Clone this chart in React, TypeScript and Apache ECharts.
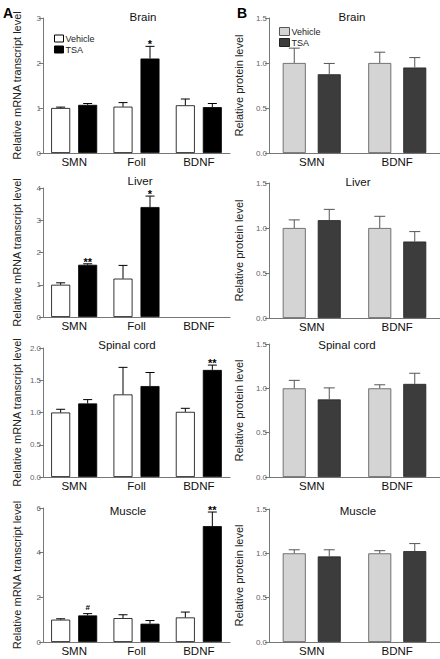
import React, { useEffect, useRef } from "react";
import * as echarts from "echarts";

// ---------- DATA ----------
const mrnaCategories = ["SMN", "Foll", "BDNF"];
const proteinCategories = ["SMN", "BDNF"];
const groupNames = ["Vehicle", "TSA"];
const tissues = ["Brain", "Liver", "Spinal cord", "Muscle"];

// Panel A: relative mRNA transcript level
const brainMrnaVehicle = [1.0, 1.03, 1.06];
const brainMrnaVehicleErr = [0.02, 0.09, 0.14];
const brainMrnaTsa = [1.07, 2.1, 1.02];
const brainMrnaTsaErr = [0.03, 0.27, 0.08];
const brainMrnaSig = ["", "*", ""];

const liverMrnaVehicle = [1.0, 1.19, null];
const liverMrnaVehicleErr = [0.06, 0.41, null];
const liverMrnaTsa = [1.62, 3.41, null];
const liverMrnaTsaErr = [0.03, 0.34, null];
const liverMrnaSig = ["**", "*", ""];

const spinalMrnaVehicle = [1.0, 1.28, 1.01];
const spinalMrnaVehicleErr = [0.05, 0.42, 0.055];
const spinalMrnaTsa = [1.14, 1.41, 1.66];
const spinalMrnaTsaErr = [0.06, 0.21, 0.075];
const spinalMrnaSig = ["", "", "**"];

const muscleMrnaVehicle = [1.0, 1.07, 1.1];
const muscleMrnaVehicleErr = [0.04, 0.15, 0.24];
const muscleMrnaTsa = [1.19, 0.82, 5.19];
const muscleMrnaTsaErr = [0.08, 0.14, 0.63];
const muscleMrnaSig = ["#", "", "**"];

const mrnaAxisMax = [3, 4, 2, 6];
const mrnaAxisInterval = [1, 1, 0.5, 2];
const mrnaAxisDecimals = [0, 0, 1, 0];

// Panel B: relative protein level
const brainProteinVehicle = [1.0, 1.0];
const brainProteinVehicleErr = [0.165, 0.12];
const brainProteinTsa = [0.875, 0.95];
const brainProteinTsaErr = [0.12, 0.11];

const liverProteinVehicle = [1.0, 1.0];
const liverProteinVehicleErr = [0.09, 0.13];
const liverProteinTsa = [1.087, 0.85];
const liverProteinTsaErr = [0.12, 0.11];

const spinalProteinVehicle = [1.0, 1.0];
const spinalProteinVehicleErr = [0.09, 0.04];
const spinalProteinTsa = [0.875, 1.05];
const spinalProteinTsaErr = [0.13, 0.12];

const muscleProteinVehicle = [1.0, 1.0];
const muscleProteinVehicleErr = [0.04, 0.03];
const muscleProteinTsa = [0.965, 1.025];
const muscleProteinTsaErr = [0.075, 0.085];

const proteinAxisMax = 1.5;
const proteinAxisInterval = 0.5;

// ---------- LAYOUT ----------
const FONT = "'Liberation Sans', Arial, Helvetica, sans-serif";
const aTops = [18, 188, 348, 508];
const aBottoms = [153, 317, 477, 642];
const bTops = [18, 183, 344, 509];
const bBottoms = [153, 318, 477, 642];
const aTitlePos = [[143, 17], [140, 181], [127, 345], [128, 511]];
const bTitlePos = [[352, 17], [358, 182], [347, 345], [358, 511]];

const A_LEFT = 43, A_WIDTH = 187, A_BW = 19, A_GAP = 8;
const B_LEFT = 269, B_WIDTH = 172, B_BW = 23, B_GAP = 12;

type Arr = (number | null)[];

function errRender(values: Arr, errs: Arr, sigs: string[] | null, offset: number, halfCap: number, color: string) {
  return (params: any, api: any) => {
    const i = api.value(0);
    const v = values[i];
    const e = errs[i];
    if (v == null || e == null) return null;
    const b = api.coord([i, v]);
    const t = api.coord([i, v + e]);
    const x = b[0] + offset;
    const children: any[] = [
      { type: "line", shape: { x1: x, y1: b[1], x2: x, y2: t[1] }, style: { stroke: color, lineWidth: 1 } },
      { type: "line", shape: { x1: x - halfCap, y1: t[1], x2: x + halfCap, y2: t[1] }, style: { stroke: color, lineWidth: 1 } },
    ];
    if (sigs && sigs[i]) {
      const isHash = sigs[i] === "#";
      children.push({
        type: "text",
        x,
        y: isHash ? t[1] - 6 : t[1] - 2,
        style: {
          text: sigs[i],
          textAlign: "center",
          textVerticalAlign: "middle",
          fontSize: isHash ? 8 : 11,
          fontWeight: "bold",
          fontFamily: FONT,
          fill: "#000",
        },
      });
    }
    return { type: "group", children };
  };
}

export default function App() {
  const ref = useRef<HTMLDivElement>(null);

  useEffect(() => {
    if (!ref.current) return;
    const chart = echarts.init(ref.current, undefined, { renderer: "svg" });

    const mrnaPanels = [
      [brainMrnaVehicle, brainMrnaVehicleErr, brainMrnaTsa, brainMrnaTsaErr, brainMrnaSig],
      [liverMrnaVehicle, liverMrnaVehicleErr, liverMrnaTsa, liverMrnaTsaErr, liverMrnaSig],
      [spinalMrnaVehicle, spinalMrnaVehicleErr, spinalMrnaTsa, spinalMrnaTsaErr, spinalMrnaSig],
      [muscleMrnaVehicle, muscleMrnaVehicleErr, muscleMrnaTsa, muscleMrnaTsaErr, muscleMrnaSig],
    ] as any[];
    const proteinPanels = [
      [brainProteinVehicle, brainProteinVehicleErr, brainProteinTsa, brainProteinTsaErr],
      [liverProteinVehicle, liverProteinVehicleErr, liverProteinTsa, liverProteinTsaErr],
      [spinalProteinVehicle, spinalProteinVehicleErr, spinalProteinTsa, spinalProteinTsaErr],
      [muscleProteinVehicle, muscleProteinVehicleErr, muscleProteinTsa, muscleProteinTsaErr],
    ] as any[];

    const grid: any[] = [];
    const xAxis: any[] = [];
    const yAxis: any[] = [];
    const series: any[] = [];
    const graphic: any[] = [];

    const axisColor = "#777";

    const makeX = (gi: number, cats: string[]) => ({
      type: "category",
      gridIndex: gi,
      data: cats,
      axisLine: { lineStyle: { color: axisColor, width: 1 } },
      axisTick: { show: false },
      axisLabel: { fontSize: 11.5, color: "#111", margin: 3, fontFamily: FONT },
    });
    const makeY = (gi: number, max: number, interval: number, dec: number, name: string, gap: number) => ({
      type: "value",
      gridIndex: gi,
      min: 0,
      max,
      interval,
      name,
      nameLocation: "middle",
      nameGap: gap,
      nameTextStyle: { fontSize: 11, color: "#222", fontFamily: FONT },
      axisLine: { show: true, lineStyle: { color: axisColor, width: 1 } },
      axisTick: { show: true, length: 4, lineStyle: { color: axisColor } },
      splitLine: { show: false },
      axisLabel: {
        fontSize: 8,
        color: "#666",
        margin: 2,
        fontFamily: FONT,
        formatter: (v: number) => v.toFixed(dec),
      },
    });

    // Panel A
    mrnaPanels.forEach((p, r) => {
      const gi = r;
      grid.push({ left: A_LEFT, width: A_WIDTH, top: aTops[r], height: aBottoms[r] - aTops[r] });
      xAxis.push(makeX(gi, mrnaCategories));
      yAxis.push(makeY(gi, mrnaAxisMax[r], mrnaAxisInterval[r], mrnaAxisDecimals[r], "Relative mRNA transcript level", 21));
      const [veh, vehErr, tsa, tsaErr, sig] = p;
      const off = (A_BW + A_GAP) / 2;
      series.push({
        type: "bar", name: groupNames[0], xAxisIndex: gi, yAxisIndex: gi,
        data: veh.map((v: any) => (v == null ? "-" : v)),
        barWidth: A_BW, barGap: (A_GAP / A_BW) * 100 + "%",
        itemStyle: { color: "#fff", borderColor: "#000", borderWidth: 0.8 },
      });
      series.push({
        type: "bar", name: groupNames[1], xAxisIndex: gi, yAxisIndex: gi,
        data: tsa.map((v: any) => (v == null ? "-" : v)),
        barWidth: A_BW, barGap: (A_GAP / A_BW) * 100 + "%",
        itemStyle: { color: "#000", borderColor: "#000", borderWidth: 0.8 },
      });
      series.push({
        type: "custom", xAxisIndex: gi, yAxisIndex: gi, z: 5, clip: false,
        data: veh.map((v: any, i: number) => [i, v == null ? 0 : v]),
        encode: { x: 0, y: 1 },
        renderItem: errRender(veh, vehErr, null, -off, 4.5, "#000"),
      });
      series.push({
        type: "custom", xAxisIndex: gi, yAxisIndex: gi, z: 5, clip: false,
        data: tsa.map((v: any, i: number) => [i, v == null ? 0 : v]),
        encode: { x: 0, y: 1 },
        renderItem: errRender(tsa, tsaErr, sig, off, 4.5, "#000"),
      });
      graphic.push({
        type: "text", x: aTitlePos[r][0], y: aTitlePos[r][1],
        style: { text: tissues[r], textAlign: "center", textVerticalAlign: "middle", fontSize: 11.5, fontFamily: FONT, fill: "#111" },
      });
    });

    // Panel B
    proteinPanels.forEach((p, r) => {
      const gi = 4 + r;
      grid.push({ left: B_LEFT, width: B_WIDTH, top: bTops[r], height: bBottoms[r] - bTops[r] });
      xAxis.push(makeX(gi, proteinCategories));
      yAxis.push(makeY(gi, proteinAxisMax, proteinAxisInterval, 1, "Relative protein level", 25));
      const [veh, vehErr, tsa, tsaErr] = p;
      const off = (B_BW + B_GAP) / 2;
      series.push({
        type: "bar", name: groupNames[0], xAxisIndex: gi, yAxisIndex: gi,
        data: veh, barWidth: B_BW, barGap: (B_GAP / B_BW) * 100 + "%",
        itemStyle: { color: "#d4d4d4", borderColor: "#555", borderWidth: 0.8 },
      });
      series.push({
        type: "bar", name: groupNames[1], xAxisIndex: gi, yAxisIndex: gi,
        data: tsa, barWidth: B_BW, barGap: (B_GAP / B_BW) * 100 + "%",
        itemStyle: { color: "#3c3c3c", borderColor: "#222", borderWidth: 0.8 },
      });
      series.push({
        type: "custom", xAxisIndex: gi, yAxisIndex: gi, z: 5, clip: false,
        data: veh.map((v: number, i: number) => [i, v]),
        encode: { x: 0, y: 1 },
        renderItem: errRender(veh, vehErr, null, -off, 5.5, "#555"),
      });
      series.push({
        type: "custom", xAxisIndex: gi, yAxisIndex: gi, z: 5, clip: false,
        data: tsa.map((v: number, i: number) => [i, v]),
        encode: { x: 0, y: 1 },
        renderItem: errRender(tsa, tsaErr, null, off, 5.5, "#555"),
      });
      graphic.push({
        type: "text", x: bTitlePos[r][0], y: bTitlePos[r][1],
        style: { text: tissues[r], textAlign: "center", textVerticalAlign: "middle", fontSize: 11.5, fontFamily: FONT, fill: "#111" },
      });
    });

    graphic.push({
      type: "text", x: 3, y: 13,
      style: { text: "A", textVerticalAlign: "middle", fontSize: 14, fontWeight: "bold", fontFamily: FONT, fill: "#000" },
    });
    graphic.push({
      type: "text", x: 237, y: 13,
      style: { text: "B", textVerticalAlign: "middle", fontSize: 14, fontWeight: "bold", fontFamily: FONT, fill: "#000" },
    });

    const legendCommon = {
      orient: "vertical",
      icon: "rect",
      itemGap: 2,
      selectedMode: false,
      textStyle: { fontSize: 9, color: "#222", fontFamily: FONT, padding: [0, 0, 0, -3] },
    };

    const option: any = {
      animation: false,
      backgroundColor: "#fff",
      grid,
      xAxis,
      yAxis,
      series,
      graphic,
      legend: [
        {
          ...legendCommon,
          left: 49,
          top: 29,
          itemWidth: 9,
          itemHeight: 7,
          data: [
            { name: "Vehicle", itemStyle: { color: "#fff", borderColor: "#000", borderWidth: 1 } },
            { name: "TSA", itemStyle: { color: "#000", borderColor: "#000", borderWidth: 1 } },
          ],
        },
        {
          ...legendCommon,
          left: 274,
          top: 22,
          itemWidth: 10,
          itemHeight: 8,
          data: [
            { name: "Vehicle", itemStyle: { color: "#d4d4d4", borderColor: "#555", borderWidth: 1 } },
            { name: "TSA", itemStyle: { color: "#3c3c3c", borderColor: "#222", borderWidth: 1 } },
          ],
        },
      ],
    };

    chart.setOption(option);
    return () => chart.dispose();
  }, []);

  return (
    <div
      ref={ref}
      style={{ position: "absolute", left: 0, top: 0, width: 440, height: 659, background: "#fff" }}
    />
  );
}
